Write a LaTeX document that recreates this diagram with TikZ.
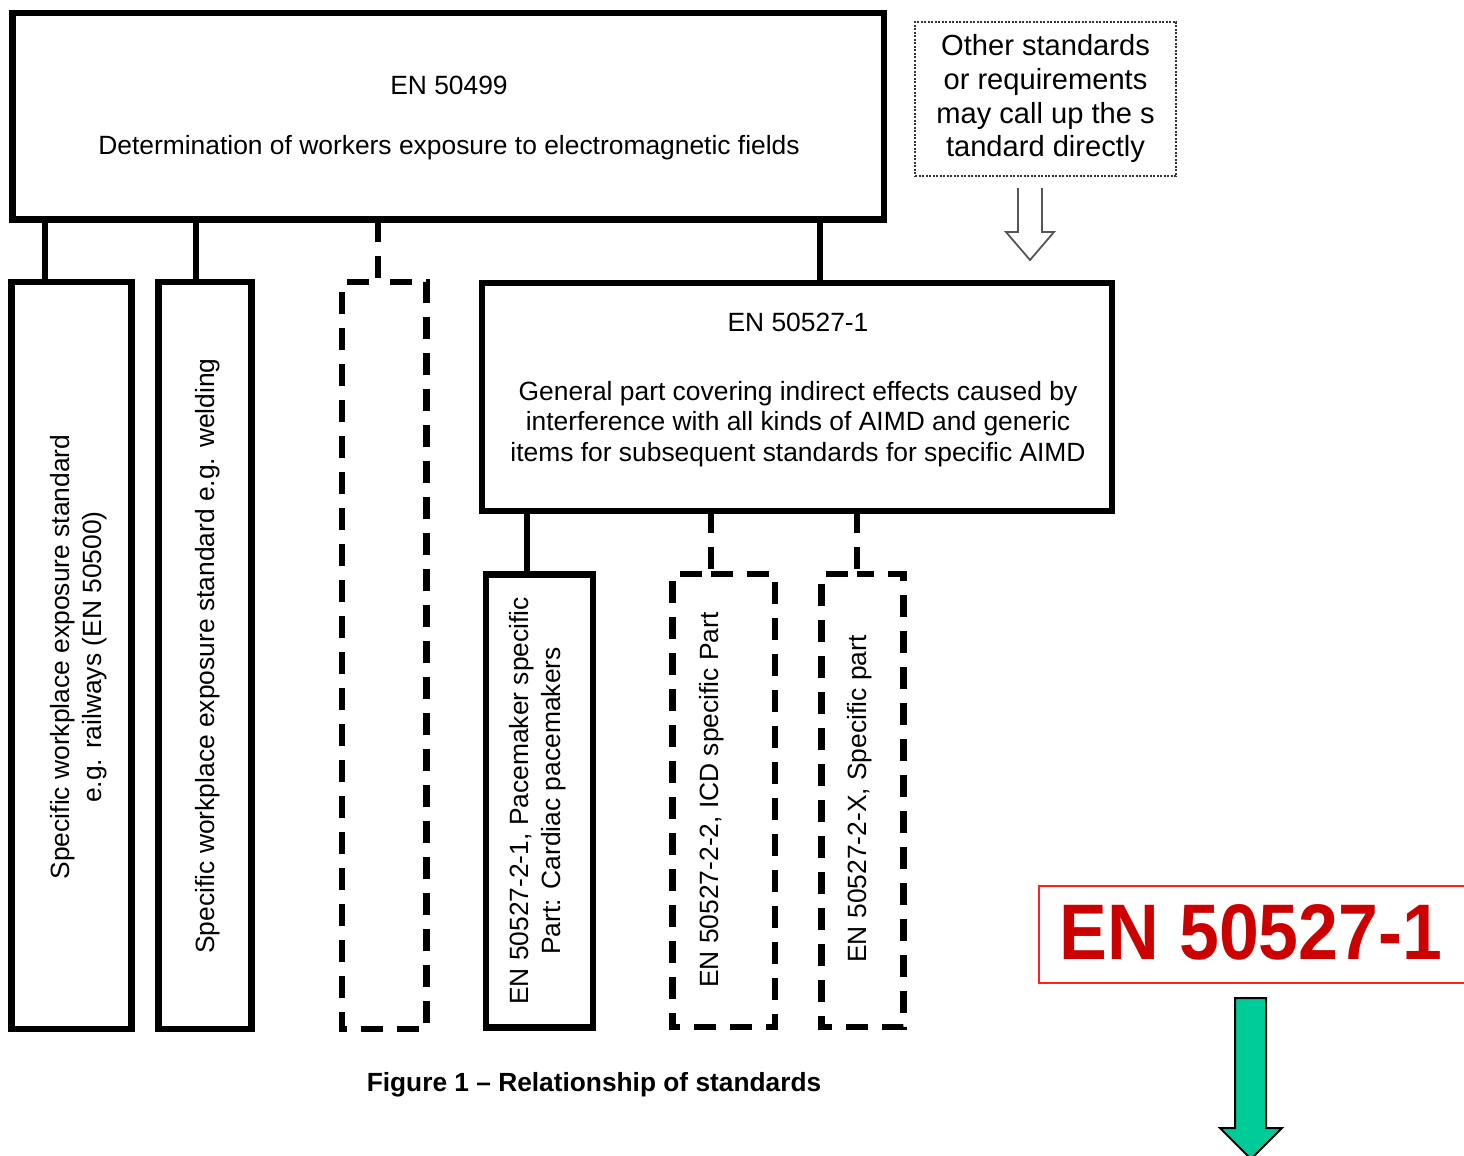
\documentclass[tikz,border=0pt]{standalone}
\usepackage{fontspec}
\usepackage{graphicx}
\setmainfont{Liberation Sans}
\newfontfamily\comicfont{Liberation Sans}
\usetikzlibrary{calc}
\definecolor{enred}{HTML}{CC0000}
\definecolor{boxred}{HTML}{FF2020}
\definecolor{arrgreen}{HTML}{00CC99}
\definecolor{dotgray}{HTML}{333333}
\definecolor{arrgray}{HTML}{555555}
\begin{document}
\begin{tikzpicture}[x=1pt,y=-1pt,
  sbox/.style={draw, line width=6.5pt, rectangle, inner sep=0pt, outer sep=0pt},
  hbox/.style={rectangle, inner sep=0pt, outer sep=0pt},
  conn/.style={line width=6.5pt},
  dline/.style={line width=6.5pt, dash pattern=on 22pt off 14pt},
  txt/.style={font=\fontsize{26.4}{31}\selectfont, inner sep=0pt, anchor=base},
  otxt/.style={font=\fontsize{29.1}{33}\selectfont, inner sep=0pt, anchor=base},
  rtxt/.style={font=\fontsize{26.4}{32.5}\selectfont, inner sep=0pt, rotate=90, align=center},
]
\useasboundingbox[fill=white] (0,0) rectangle (1464,1156);

% top box
\node[sbox, minimum width=871.5pt, minimum height=206.5pt] (top) at (448.25,116.25) {};
\node[txt] (t1) at (449,94.5) {EN 50499};
\node[txt] (t2) at (449,154.5) {Determination of workers exposure to electromagnetic fields};

% other standards box
\node[hbox, draw=dotgray, line width=2pt, dash pattern=on 2pt off 1.5pt,
      minimum width=261pt, minimum height=154pt] (oth) at (1045.5,99) {};
\node[otxt] (o1) at (1045.5,56) {Other standards};
\node[otxt] (o2) at (1045.5,89.5) {or requirements};
\node[otxt] (o3) at (1045.5,123) {may call up the s};
\node[otxt] (o4) at (1045.5,156.5) {tandard directly};

% hollow arrow
\draw[draw=arrgray, line width=1.8pt, line join=miter]
  (1018,188) -- (1018,232) -- (1006,232) -- (1030,260) -- (1054,232) -- (1042,232) -- (1042,188);

% left boxes
\node[sbox, minimum width=119.8pt, minimum height=747pt] (b1) at (71.6,655.5) {};
\node[sbox, minimum width=93.4pt, minimum height=747pt] (b2) at (205,655.5) {};
\node[hbox, minimum width=84.5pt, minimum height=747pt] (b3) at (384.25,655.5) {};

\coordinate (c1) at ([xshift=33.3pt]b1.north west);
\coordinate (c2) at ([xshift=37.7pt]b2.north west);
\coordinate (c3) at ([xshift=36pt]b3.north west);
\draw[conn] (c1 |- top.south) -- (c1);
\draw[conn] (c2 |- top.south) -- (c2);
\draw[dline] (c3 |- top.south) -- (c3) -- (b3.north west) -- (b3.south west)
   -- (b3.south east) -- (b3.north east) -- (c3);

\node[rtxt] (r1) at (78.5,657) {Specific workplace exposure standard\\e.g. railways (EN 50500)};
\node[rtxt] (r2) at (208,656) {Specific workplace exposure standard e.g. welding};

% EN 50527-1 box
\node[sbox, minimum width=630pt, minimum height=228pt] (en) at (796.8,397) {};
\coordinate (ce) at ([xshift=338.3pt]en.north west);
\draw[conn] (ce |- top.south) -- (ce);
\node[txt] (e1) at (798,331.5) {EN 50527-1};
\node[txt] (e2) at (798,400) {General part covering indirect effects caused by};
\node[txt] (e3) at (798,430.5) {interference with all kinds of AIMD and generic};
\node[txt] (e4) at (798,461) {items for subsequent standards for specific AIMD};

% lower boxes
\node[sbox, minimum width=107pt, minimum height=453pt] (b4) at (539.5,801) {};
\node[hbox, minimum width=102.5pt, minimum height=453pt] (b5) at (723.75,800.5) {};
\node[hbox, minimum width=82pt, minimum height=453pt] (b6) at (862.5,800.5) {};
\coordinate (c4) at ([xshift=41pt]b4.north west);
\coordinate (c5) at ([xshift=38.5pt]b5.north west);
\coordinate (c6) at ([xshift=35.5pt]b6.north west);
\draw[conn] (c4 |- en.south) -- (c4);
\draw[dline] (c5 |- en.south) -- (c5) -- (b5.north west) -- (b5.south west)
   -- (b5.south east) -- (b5.north east) -- (c5);
\draw[dline] (c6 |- en.south) -- (c6) -- (b6.north west) -- (b6.south west)
   -- (b6.south east) -- (b6.north east) -- (c6);

\node[rtxt] (r4) at (537.5,801) {EN 50527-2-1, Pacemaker specific\\Part: Cardiac pacemakers};
\node[rtxt] (r5) at (712,800) {EN 50527-2-2, ICD specific Part};
\node[rtxt] (r6) at (860,799) {EN 50527-2-X, Specific part};

% caption
\node[txt, font=\fontsize{26.3}{31}\selectfont\bfseries] (cap) at (594,1091) {Figure 1 -- Relationship of standards};

% red label
\node[hbox, draw=boxred, line width=2pt, minimum width=436pt, minimum height=97pt] (red) at (1257,934.5) {};
\node[inner sep=0pt, text=enred] (redt) at (1251,932.5) {\resizebox{382pt}{55pt}{\comicfont\bfseries EN 50527-1}};

% green arrow
\draw[fill=arrgreen, line width=2pt, line join=miter]
  (1235,998) -- (1235,1128) -- (1220,1128) -- (1251,1159) -- (1282,1128) -- (1266,1128) -- (1266,998) -- cycle;
\end{tikzpicture}
\end{document}
